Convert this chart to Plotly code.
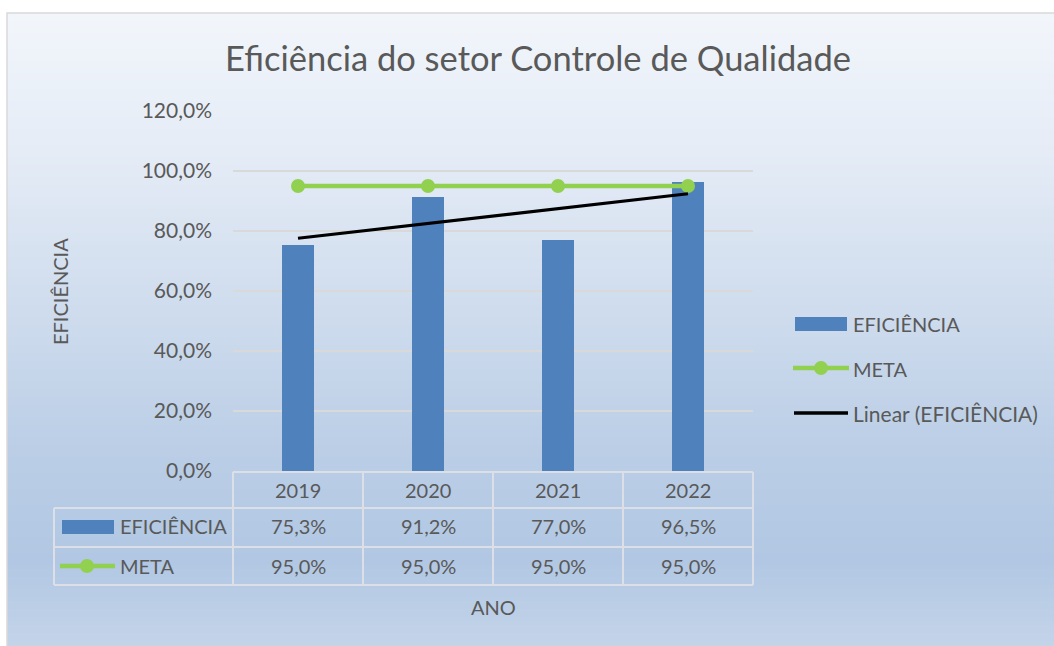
import numpy as np
import plotly.graph_objects as go

# ---- data ----
anos = ["2019", "2020", "2021", "2022"]
eficiencia = [0.753, 0.912, 0.770, 0.965]
meta = [0.95, 0.95, 0.95, 0.95]
y_ticks = [0.0, 0.2, 0.4, 0.6, 0.8, 1.0, 1.2]

W, H = 1054, 646
def X(px): return px / W
def Y(py): return 1 - py / H

FONT = "Lato"
TXT = "#595959"
BLUE = "rgb(79,129,189)"
GREEN = "rgb(146,208,80)"
GRID = "rgb(217,217,217)"

def fmt(v):
    return f"{v*100:.1f}%".replace(".", ",")

xs = list(range(len(anos)))
coef = np.polyfit(np.array(xs, float), np.array(eficiencia), 1)
trend = np.polyval(coef, np.array(xs, float))

fig = go.Figure()
fig.add_trace(go.Bar(x=xs, y=eficiencia, width=0.25, marker=dict(color=BLUE, line=dict(width=0)),
                     name="EFICIÊNCIA", showlegend=False))
fig.add_trace(go.Scatter(x=xs, y=meta, mode="lines+markers", line=dict(color=GREEN, width=4.5),
                         marker=dict(size=14, color=GREEN), name="META", showlegend=False))
fig.add_trace(go.Scatter(x=[xs[0], xs[-1]], y=[trend[0], trend[-1]], mode="lines",
                         line=dict(color="black", width=3.2), name="Linear (EFICIÊNCIA)", showlegend=False))

shapes = []
# background gradient
stops = [(13, (242, 246, 251)), (150, (229, 236, 246)), (300, (208, 221, 238)),
         (450, (187, 206, 230)), (560, (177, 199, 227)), (646, (196, 212, 233))]
def col_at(py):
    for (a, ca), (b, cb) in zip(stops[:-1], stops[1:]):
        if a <= py <= b:
            t = (py - a) / (b - a)
            return tuple(int(round(ca[i] + (cb[i] - ca[i]) * t)) for i in range(3))
    return stops[-1][1]
step = 4
py = 13
while py < 646:
    c = col_at(py + step / 2)
    shapes.append(dict(type="rect", xref="paper", yref="paper", x0=X(7), x1=X(1056),
                       y0=Y(min(py + step + 2, 648)), y1=Y(py), fillcolor=f"rgb{c}",
                       line=dict(width=0), layer="below"))
    py += step
# border
shapes.append(dict(type="rect", xref="paper", yref="paper", x0=X(7), x1=X(1060), y0=Y(650), y1=Y(13),
                   line=dict(color=GRID, width=1.5), layer="below"))

# data table
cols = [233, 363, 493, 623, 753]
rows = [472, 508, 547, 585]
tc = "rgb(220,224,230)"
lw = 2
TL = 54
shapes.append(dict(type="line", xref="paper", yref="paper", x0=X(233), x1=X(753), y0=Y(rows[0]), y1=Y(rows[0]), line=dict(color=tc, width=lw)))
for r in rows[1:]:
    shapes.append(dict(type="line", xref="paper", yref="paper", x0=X(TL), x1=X(753), y0=Y(r), y1=Y(r), line=dict(color=tc, width=lw)))
for c in cols:
    shapes.append(dict(type="line", xref="paper", yref="paper", x0=X(c), x1=X(c), y0=Y(rows[0]), y1=Y(585), line=dict(color=tc, width=lw)))
shapes.append(dict(type="line", xref="paper", yref="paper", x0=X(TL), x1=X(TL), y0=Y(508), y1=Y(585), line=dict(color=tc, width=lw)))

# table legend keys
shapes.append(dict(type="rect", xref="paper", yref="paper", x0=X(62), x1=X(114), y0=Y(534), y1=Y(520), fillcolor=BLUE, line=dict(width=0)))
shapes.append(dict(type="line", xref="paper", yref="paper", x0=X(60), x1=X(115), y0=Y(566), y1=Y(566), line=dict(color=GREEN, width=4.5)))
shapes.append(dict(type="circle", xref="paper", yref="paper", x0=X(80), x1=X(94), y0=Y(573), y1=Y(559), fillcolor=GREEN, line=dict(width=0)))

# right legend
shapes.append(dict(type="rect", xref="paper", yref="paper", x0=X(795), x1=X(847), y0=Y(331), y1=Y(317), fillcolor=BLUE, line=dict(width=0)))
shapes.append(dict(type="line", xref="paper", yref="paper", x0=X(793), x1=X(849), y0=Y(368), y1=Y(368), line=dict(color=GREEN, width=4.5)))
shapes.append(dict(type="circle", xref="paper", yref="paper", x0=X(814), x1=X(828), y0=Y(375), y1=Y(361), fillcolor=GREEN, line=dict(width=0)))
shapes.append(dict(type="line", xref="paper", yref="paper", x0=X(794), x1=X(848), y0=Y(413), y1=Y(413), line=dict(color="black", width=3.5)))

ann = []
def t(x, y, s, size=20, xanchor="center", xref="paper", **kw):
    ann.append(dict(x=x, y=Y(y), xref=xref, yref="paper", text=s, showarrow=False, xanchor=xanchor,
                    yanchor="middle", font=dict(family=FONT, size=size, color=TXT), **kw))

for i, a in enumerate(anos):
    t(i, 490, a, xref="x")
    t(i, 526, fmt(eficiencia[i]), xref="x")
    t(i, 566, fmt(meta[i]), xref="x")
t(X(118), 526, "EFICIÊNCIA", xanchor="left")
t(X(118), 566, "META", xanchor="left")
t(X(851), 324, "EFICIÊNCIA", xanchor="left")
t(X(851), 369, "META", xanchor="left")
t(X(851), 413, "Linear (EFICIÊNCIA)", xanchor="left", size=21)
t(X(493), 607, "ANO")
t(X(60), 292, "EFICIÊNCIA", textangle=-90)
t(X(538), 57, "Eficiência do setor Controle de Qualidade", size=34.5)

fig.update_layout(
    width=W, height=H, margin=dict(l=0, r=0, t=0, b=0, autoexpand=False),
    paper_bgcolor="white", plot_bgcolor="rgba(0,0,0,0)",
    separators=",.", shapes=shapes, annotations=ann, showlegend=False, bargap=0,
    xaxis=dict(domain=[X(233), X(753)], range=[-0.5, 3.5], showticklabels=False, showgrid=False,
               zeroline=False, showline=False, fixedrange=True, automargin=False),
    yaxis=dict(domain=[Y(471), Y(111)], range=[0, 1.2], tickvals=y_ticks, tickformat=".1%",
               showgrid=True, gridcolor=GRID, gridwidth=1.5, zeroline=False, showline=False, ticks="",
               automargin=False, ticklabelstandoff=20, tickfont=dict(family=FONT, size=21, color=TXT)),
)
fig.write_html("out.html", config={"displayModeBar": False},
               post_script="document.body.style.margin='0';document.body.style.overflow='hidden';")
